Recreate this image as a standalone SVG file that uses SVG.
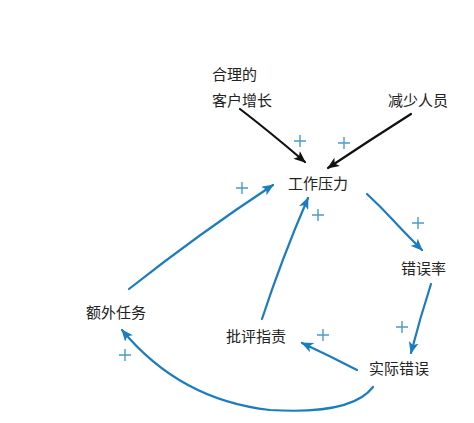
<svg xmlns="http://www.w3.org/2000/svg" width="474" height="423" viewBox="0 0 474 423">
<defs>
<marker id="ab" viewBox="0 0 12 10" refX="11" refY="5" markerWidth="12" markerHeight="10" markerUnits="userSpaceOnUse" orient="auto">
<path d="M0,0 L12,5 L0,10 L3,5 Z" fill="#1b7cc0"/>
</marker>
<marker id="ak" viewBox="0 0 12 10" refX="11" refY="5" markerWidth="12" markerHeight="10" markerUnits="userSpaceOnUse" orient="auto">
<path d="M0,0 L12,5 L0,10 L3,5 Z" fill="#111"/>
</marker>
</defs>
<style>
text{font-family:"Liberation Serif","Noto Sans CJK SC",serif;font-size:15px;fill:#222}
.b{fill:none;stroke:#1b7cc0;stroke-width:2.2;stroke-linecap:round;marker-end:url(#ab)}
.k{fill:none;stroke:#111;stroke-width:2.2;stroke-linecap:round;marker-end:url(#ak)}
.p{stroke:#4a9cc8;stroke-width:1.4;fill:none}
</style>
<rect width="474" height="423" fill="#fff"/>
<g id="n-customer"><text x="212" y="80">合理的</text><text x="212" y="106">客户增长</text></g>
<g id="n-reduce"><text x="388" y="106">减少人员</text></g>
<g id="n-pressure"><text x="288" y="189">工作压力</text></g>
<g id="n-errrate"><text x="401" y="274">错误率</text></g>
<g id="n-extra"><text x="86" y="318">额外任务</text></g>
<g id="n-blame"><text x="226" y="342">批评指责</text></g>
<g id="n-actual"><text x="369" y="374">实际错误</text></g>
<g id="connectors">
<path class="k" d="M240,109 Q270,132 305,162"/>
<path class="k" d="M411,114 Q370,140 328,168"/>
<path class="b" d="M367,194 Q380,206 392,219 T422,250"/>
<path class="b" d="M431,284 Q420,318 411,353"/>
<path class="b" d="M357,370 Q330,356 302,343"/>
<path class="b" d="M262,319 Q282,258 308,198"/>
<path class="b" d="M129,289 Q200,233 273,185"/>
<path class="b" d="M373,387 Q352,415 270,410 Q180,400 122,330"/>
</g>
<g id="plus">
<path class="p" d="M294,141h12M300,135v12"/>
<path class="p" d="M338,143h12M344,137v12"/>
<path class="p" d="M236,188h12M242,182v12"/>
<path class="p" d="M312,215h12M318,209v12"/>
<path class="p" d="M412,223h12M418,217v12"/>
<path class="p" d="M396,327h12M402,321v12"/>
<path class="p" d="M317,335h12M323,329v12"/>
<path class="p" d="M119,355h12M125,349v12"/>
</g>
</svg>
